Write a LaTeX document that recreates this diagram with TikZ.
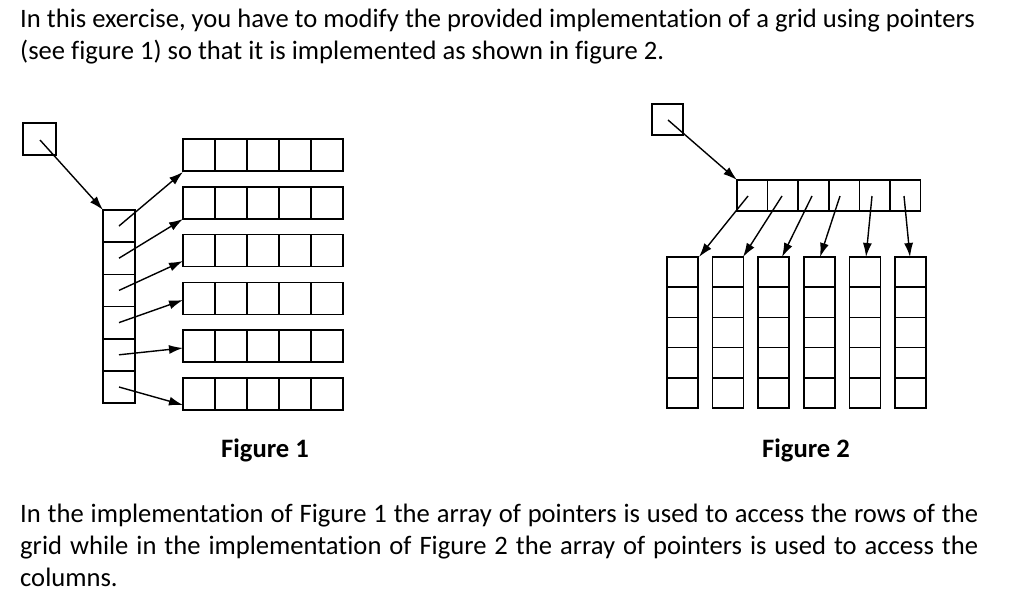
\documentclass[tikz,border=0pt]{standalone}
\usepackage{fontspec}
\setmainfont{Carlito}[Ligatures={NoCommon}]
\usetikzlibrary{arrows.meta}
\begin{document}
\begin{tikzpicture}[x=1pt,y=-1pt,
  cell/.style={draw,line width=1.6pt,minimum width=#1,inner sep=0pt,outer sep=0pt},
  ptr/.style={line width=1.4pt,-{Latex[length=14pt,width=9pt]}},
  txt/.style={inner sep=0pt,anchor=base west,font=\fontsize{26.6}{32}\selectfont}]
\useasboundingbox (0,0) rectangle (1024,595);
\node[txt] (t1) at (20,27) {In this exercise, you have to modify the provided implementation of a grid using pointers};
\node[txt] (t2) at (20,59) {(see figure 1) so that it is implemented as shown in figure 2.};
% Figure 1
\node[cell=33pt,minimum height=32pt] (p1) at (39.5,139) {};
\foreach \i in {0,...,5} {
  \node[cell=32pt,minimum height=32.2pt] (c\i) at (119,226+32.2*\i) {};
  \foreach \j in {0,...,4} {
    \node[cell=32pt,minimum height=32pt] (r\i\j) at (199+32*\j,155+47.8*\i) {};
  }
}
\coordinate (s1) at (40,140);
\draw[ptr] (s1) -- (c0.north west);
\foreach \i/\ty in {0/172,1/219,2/261,3/300,4/348,5/405} {
  \coordinate (a\i) at (119,226+32.2*\i);
  \coordinate (b\i) at (183,\ty);
  \draw[ptr] (a\i) -- (b\i);
}
% Figure 2
\node[cell=31pt,minimum height=31pt] (p2) at (667.5,119.5) {};
\foreach \i in {0,...,5} {
  \node[cell=30.6pt,minimum height=31pt] (h\i) at (752.3+30.6*\i,195.5) {};
}
\foreach \i/\x in {0/682.5,1/728,2/773.5,3/819.5,4/865,5/910.5} {
  \foreach \j in {0,...,4} {
    \node[cell=31pt,minimum height=30.2pt] (v\i\j) at (\x,272+30.2*\j) {};
  }
}
\coordinate (s2) at (668,120);
\draw[ptr] (s2) -- (h0.north west);
\foreach \i/\sx/\ex in {0/748/699,1/782/743,2/812/782,3/840/820,4/872/866,5/904/910} {
  \coordinate (d\i) at (\sx,196);
  \coordinate (e\i) at (\ex,257);
  \draw[ptr] (d\i) -- (e\i);
}
\node[font=\fontsize{26.6}{32}\selectfont\bfseries] (f1) at (265,450) {Figure 1};
\node[font=\fontsize{26.6}{32}\selectfont\bfseries] (f2) at (806,450) {Figure 2};
\node[txt] (b1) at (20,522) {\makebox[958pt][s]{In the implementation of Figure 1 the array of pointers is used to access the rows of the}};
\node[txt] (b2) at (20,554) {\makebox[958pt][s]{grid while in the implementation of Figure 2 the array of pointers is used to access the}};
\node[txt] (b3) at (20,586) {columns.};
\end{tikzpicture}
\end{document}
